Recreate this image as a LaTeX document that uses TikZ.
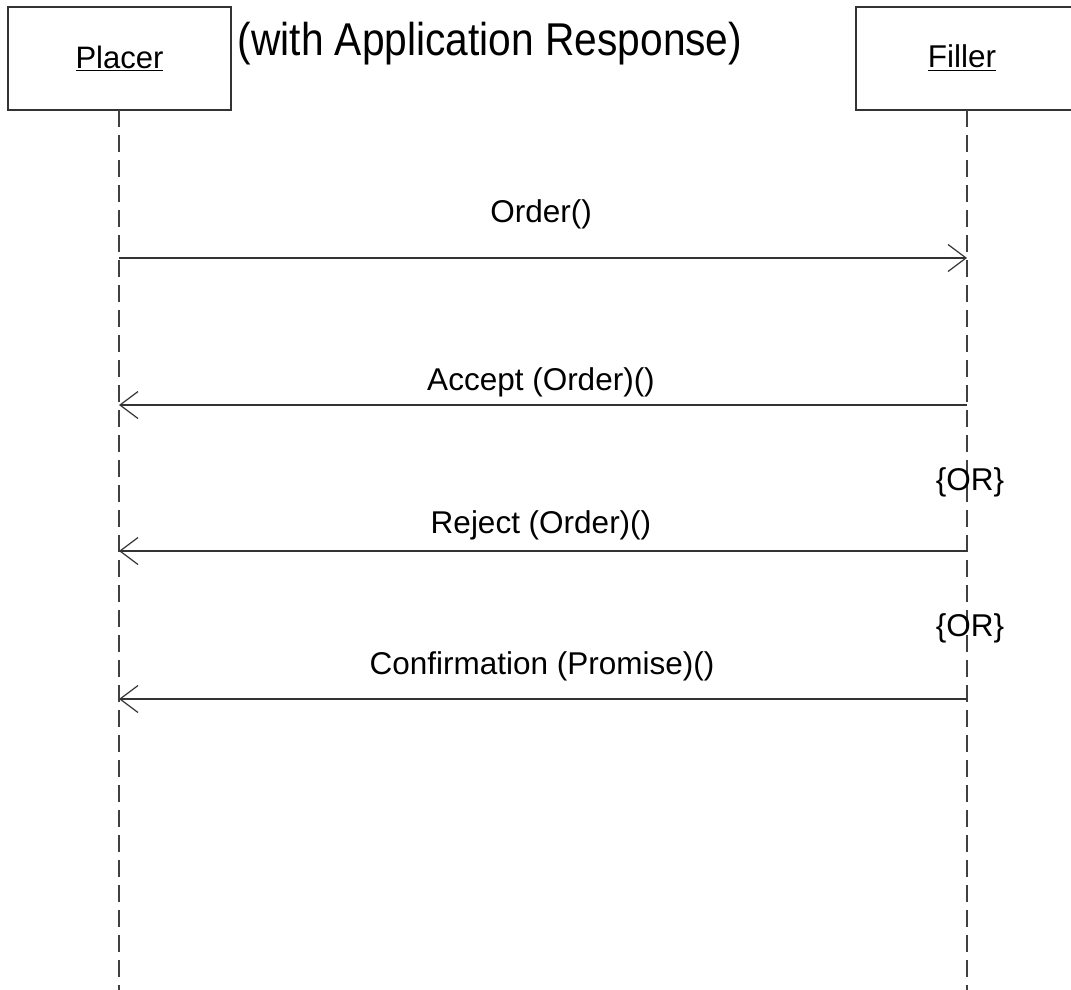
\documentclass[tikz,border=0pt]{standalone}
\usepackage{fontspec}
\setmainfont{Liberation Sans}
\usetikzlibrary{arrows.meta}
\begin{document}
\begin{tikzpicture}[x=1pt,y=-1pt,
  actor/.style={draw=black!80,line width=1.6pt,fill=white,inner sep=0pt,minimum height=103pt,font=\fontsize{31}{36}\selectfont},
  lifeline/.style={draw=black!75,line width=1.3pt,dash pattern=on 17pt off 8pt},
  msg/.style={draw=black!80,line width=1.3pt,-{Straight Barb[length=18pt,width=27pt,line width=1.2pt]}},
  lbl/.style={anchor=base,inner sep=0pt,font=\fontsize{31.5}{36}\selectfont},
  title/.style={anchor=base,inner sep=0pt,font=\fontsize{46}{50}\selectfont}]
\useasboundingbox (0,0) rectangle (1071,990);
\node[actor,minimum width=223pt] (placer) at (119.5,58.5) {\underline{Placer}};
\node[actor,minimum width=224pt] (filler) at (968,58.5) {};
\node[lbl] (fillertxt) at (962,68) {\underline{Filler}};
\node[title] (ttl) at (490,56) {\scalebox{0.885}[1]{(with Application Response)}};
% lifeline ends
\coordinate (pend) at (119,990);
\coordinate (fend) at (967,990);
\coordinate (ptop) at (119,110);
\coordinate (ftop) at (967,110);
\draw[lifeline] (ptop) -- (pend);
\draw[lifeline] (ftop) -- (fend);
% message points
\coordinate (p1) at (119,258); \coordinate (f1) at (967,258);
\coordinate (p2) at (119,405); \coordinate (f2) at (967,405);
\coordinate (p3) at (119,551); \coordinate (f3) at (967,551);
\coordinate (p4) at (119,699); \coordinate (f4) at (967,699);
\draw[msg] (p1) -- (f1);
\draw[msg] (f2) -- (p2);
\draw[msg] (f3) -- (p3);
\draw[msg] (f4) -- (p4);
\node[lbl] (l1) at (541,222) {Order()};
\node[lbl] (l2) at (541,390) {Accept (Order)()};
\node[lbl] (l3) at (541,533) {Reject (Order)()};
\node[lbl] (l4) at (542,674) {Confirmation (Promise)()};
\node[lbl] (or1) at (970,490) {\{OR\}};
\node[lbl] (or2) at (970,636) {\{OR\}};
\end{tikzpicture}
\end{document}
